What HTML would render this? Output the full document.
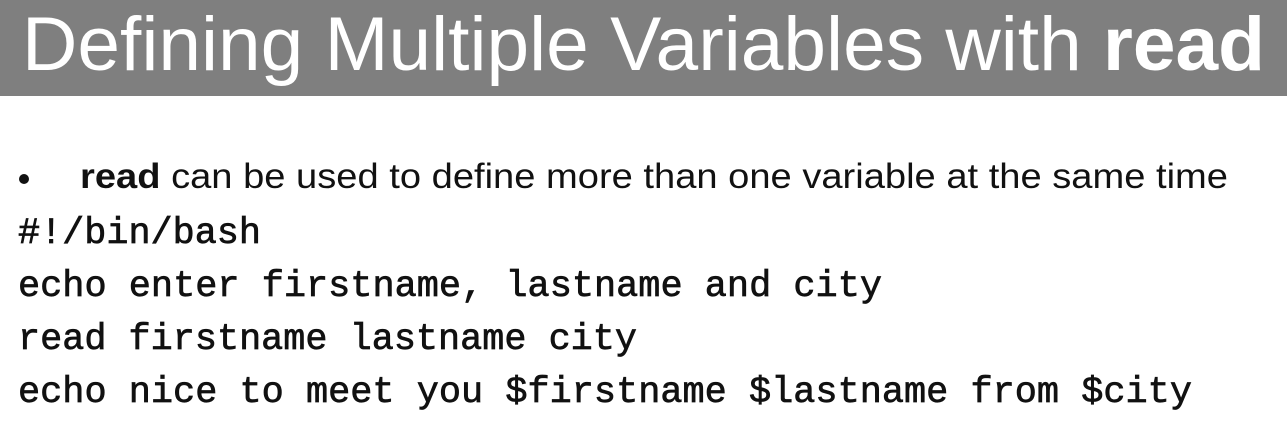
<!DOCTYPE html>
<html><head><style>html,body{margin:0;padding:0;background:#fff;}</style></head>
<body>
<svg width="1287" height="440" xmlns="http://www.w3.org/2000/svg">
<rect x="0" y="0" width="1287" height="96" fill="#7f7f7f"/>
<text x="22" y="70" font-family="Liberation Sans, sans-serif" font-size="76" fill="#fff" textLength="1243" lengthAdjust="spacingAndGlyphs">Defining Multiple Variables with <tspan font-weight="bold">read</tspan></text>
<circle cx="24" cy="179" r="5" fill="#111"/>
<text x="80" y="188" font-family="Liberation Sans, sans-serif" font-size="35" fill="#111" textLength="1148" lengthAdjust="spacingAndGlyphs"><tspan font-weight="bold">read</tspan> can be used to define more than one variable at the same time</text>
<g font-family="Liberation Mono, monospace" font-size="36.8" fill="#111" stroke="#111" stroke-width="0.7">
<text x="18" y="243" textLength="243" lengthAdjust="spacingAndGlyphs">#!/bin/bash</text>
<text x="18" y="296" textLength="864" lengthAdjust="spacingAndGlyphs">echo enter firstname, lastname and city</text>
<text x="18" y="349" textLength="619" lengthAdjust="spacingAndGlyphs">read firstname lastname city</text>
<text x="18" y="402" textLength="1174" lengthAdjust="spacingAndGlyphs">echo nice to meet you $firstname $lastname from $city</text>
</g>
</svg>
</body></html>
